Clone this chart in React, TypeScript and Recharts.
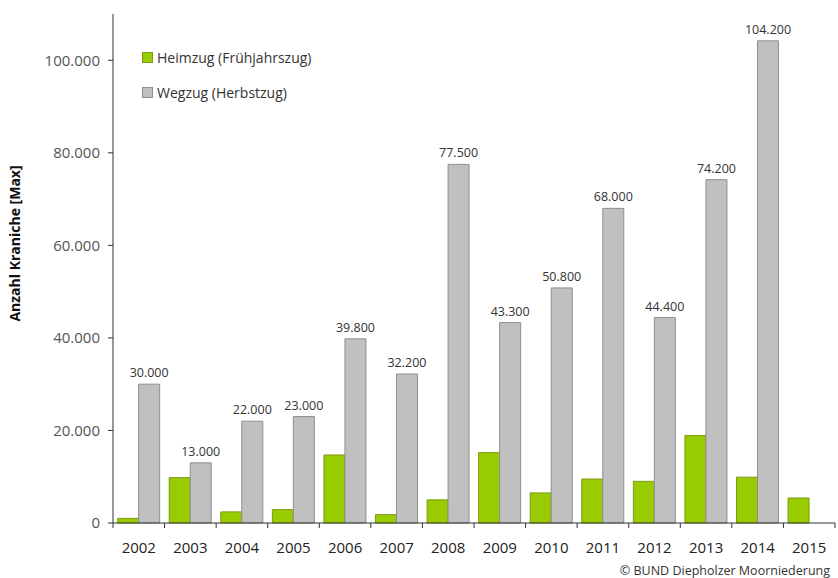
import { Bar, BarChart, LabelList, XAxis, YAxis } from "recharts";

const years = ["2002", "2003", "2004", "2005", "2006", "2007", "2008", "2009", "2010", "2011", "2012", "2013", "2014", "2015"];
const heimzug = [1000, 9800, 2400, 2900, 14700, 1800, 5000, 15200, 6500, 9500, 9000, 18900, 9900, 5400];
const wegzug = [30000, 13000, 22000, 23000, 39800, 32200, 77500, 43300, 50800, 68000, 44400, 74200, 104200, null];
const yTicks = [0, 20000, 40000, 60000, 80000, 100000];

const data = years.map((year, i) => ({ year, heimzug: heimzug[i], wegzug: wegzug[i] }));

const FONT = "'Open Sans', 'Noto Sans', sans-serif";
const GREEN = "#99cc00";
const GREEN_EDGE = "#7c9a12";
const GREY = "#c0c0c0";
const GREY_EDGE = "#8e8e8e";

const fmt = (v: number | null | undefined) =>
  v == null ? "" : String(Math.round(v)).replace(/\B(?=(\d{3})+(?!\d))/g, ".");

function YearTick(props: any) {
  const { x, y, payload, index } = props;
  const half = payload.offset ?? 0;
  const last = index === years.length - 1;
  return (
    <g>
      <line x1={x - half} x2={x - half} y1={y - 8} y2={y - 3} stroke="#333" />
      {last && <line x1={x + half} x2={x + half} y1={y - 8} y2={y - 3} stroke="#333" />}
      <text x={x} y={y + 22} textAnchor="middle" fill="#222" fontSize={15} fontFamily={FONT}>
        {payload.value}
      </text>
    </g>
  );
}

export default function App() {
  return (
    <div style={{ position: "absolute", left: 0, top: 0, width: 838, height: 578, background: "#fff" }}>
      <BarChart
        width={838}
        height={578}
        data={data}
        margin={{ top: 14, right: 3, bottom: 25, left: 0 }}
        barCategoryGap="9%"
        barGap={0}
      >
        <XAxis
          dataKey="year"
          tickLine={false}
          tick={<YearTick />}
          axisLine={{ stroke: "#333" }}
          height={30}
        />
        <YAxis
          width={113}
          domain={[0, 110000]}
          ticks={yTicks}
          tickFormatter={fmt}
          tick={{ fill: "#555", fontSize: 15, fontFamily: FONT }}
          tickSize={5}
          tickMargin={8}
          tickLine={{ stroke: "#333" }}
          axisLine={{ stroke: "#333" }}
          label={{
            value: "Anzahl Kraniche [Max]",
            angle: -90,
            position: "insideLeft",
            dx: 10,
            dy: -25,
            style: { textAnchor: "middle", fontWeight: 700, fontSize: 14, fill: "#111", fontFamily: FONT },
          }}
        />
        <Bar dataKey="heimzug" fill={GREEN} stroke={GREEN_EDGE} strokeWidth={1} isAnimationActive={false} />
        <Bar dataKey="wegzug" fill={GREY} stroke={GREY_EDGE} strokeWidth={1} isAnimationActive={false}>
          <LabelList
            dataKey="wegzug"
            position="top"
            offset={7}
            formatter={(v: any) => fmt(v)}
            style={{ fill: "#333", fontSize: 12.5, fontFamily: FONT }}
          />
        </Bar>
      </BarChart>
      <div style={{ position: "absolute", left: 142, top: 46, fontFamily: FONT, fontSize: 14, color: "#333" }}>
        {[
          { name: "Heimzug (Frühjahrszug)", fill: GREEN, edge: GREEN_EDGE },
          { name: "Wegzug (Herbstzug)", fill: GREY, edge: GREY_EDGE },
        ].map((item) => (
          <div key={item.name} style={{ display: "flex", alignItems: "center", height: 22, marginBottom: 13 }}>
            <span
              style={{
                display: "inline-block",
                width: 9,
                height: 9,
                background: item.fill,
                border: `1px solid ${item.edge}`,
                marginRight: 4,
              }}
            />
            {item.name}
          </div>
        ))}
      </div>
      <div style={{ position: "absolute", right: 8, top: 562, fontFamily: FONT, fontSize: 12.5, color: "#333" }}>
        © BUND Diepholzer Moorniederung
      </div>
    </div>
  );
}
